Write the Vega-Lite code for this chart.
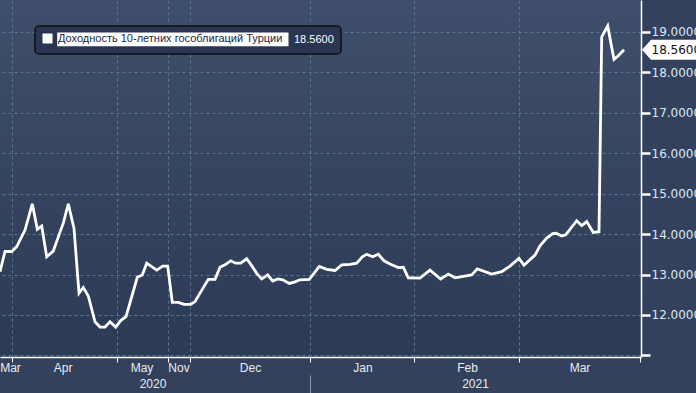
{
  "$schema": "https://vega.github.io/schema/vega-lite/v6.json",
  "width": 641,
  "height": 357,
  "autosize": "none",
  "padding": {"left": 0, "top": 0, "right": 55, "bottom": 36},
  "background": "#33415d",
  "config": {
    "view": {
      "stroke": null,
      "fill": {
        "gradient": "linear",
        "x1": 0, "y1": 0, "x2": 0, "y2": 1,
        "stops": [
          {"offset": 0, "color": "#3f4e6a"},
          {"offset": 1, "color": "#2c3a55"}
        ]
      }
    },
    "axis": {
      "labelFlush": false,
      "labelOverlap": false,
      "domainColor": "#ffffff",
      "domainWidth": 1.5,
      "tickColor": "#ffffff",
      "gridColor": "#56788e",
      "gridDash": [3, 3],
      "gridWidth": 1
    }
  },
  "datasets": {
    "yields": [
      {"t": 0, "v": 13.07}, {"t": 1, "v": 13.57}, {"t": 2.34, "v": 13.57}, {"t": 3.34, "v": 13.69},
      {"t": 5, "v": 14.10}, {"t": 6.46, "v": 14.75}, {"t": 7.46, "v": 14.12}, {"t": 8.34, "v": 14.20},
      {"t": 9.34, "v": 13.44}, {"t": 10.66, "v": 13.58}, {"t": 11.86, "v": 14.00}, {"t": 12.66, "v": 14.27},
      {"t": 13.66, "v": 14.75}, {"t": 14.8, "v": 14.14}, {"t": 15.8, "v": 12.54}, {"t": 16.66, "v": 12.68},
      {"t": 17.66, "v": 12.47}, {"t": 19, "v": 11.83}, {"t": 20, "v": 11.70}, {"t": 21, "v": 11.70},
      {"t": 22, "v": 11.83}, {"t": 23.14, "v": 11.70}, {"t": 24.14, "v": 11.86}, {"t": 25.2, "v": 11.96},
      {"t": 27.46, "v": 12.93}, {"t": 28.46, "v": 12.99}, {"t": 29.34, "v": 13.28}, {"t": 31.34, "v": 13.11},
      {"t": 32.54, "v": 13.21}, {"t": 33.54, "v": 13.21}, {"t": 34.46, "v": 12.31}, {"t": 35.66, "v": 12.31},
      {"t": 36.8, "v": 12.26}, {"t": 38.14, "v": 12.26}, {"t": 39, "v": 12.33}, {"t": 40, "v": 12.54},
      {"t": 41.66, "v": 12.88}, {"t": 43, "v": 12.88}, {"t": 44, "v": 13.18}, {"t": 45, "v": 13.24},
      {"t": 46.14, "v": 13.34}, {"t": 47.14, "v": 13.28}, {"t": 48.14, "v": 13.28}, {"t": 49.34, "v": 13.39},
      {"t": 50.34, "v": 13.22}, {"t": 51.34, "v": 13.03}, {"t": 52.34, "v": 12.89}, {"t": 53.54, "v": 12.99},
      {"t": 54.54, "v": 12.84}, {"t": 55.54, "v": 12.89}, {"t": 56.54, "v": 12.87}, {"t": 57.86, "v": 12.78},
      {"t": 59, "v": 12.82}, {"t": 60, "v": 12.87}, {"t": 61.86, "v": 12.88}, {"t": 63.86, "v": 13.20},
      {"t": 65.34, "v": 13.13}, {"t": 67, "v": 13.10}, {"t": 68.34, "v": 13.24}, {"t": 70, "v": 13.25},
      {"t": 71.34, "v": 13.28}, {"t": 72.46, "v": 13.44}, {"t": 73.34, "v": 13.50}, {"t": 74.54, "v": 13.44},
      {"t": 75.66, "v": 13.50}, {"t": 76.8, "v": 13.34}, {"t": 78, "v": 13.26}, {"t": 79.66, "v": 13.17},
      {"t": 80.66, "v": 13.18}, {"t": 81.66, "v": 12.92}, {"t": 84, "v": 12.91}, {"t": 86, "v": 13.11},
      {"t": 88.14, "v": 12.89}, {"t": 89.66, "v": 13.01}, {"t": 91, "v": 12.92}, {"t": 94.34, "v": 12.99},
      {"t": 95.46, "v": 13.14}, {"t": 98.34, "v": 13.01}, {"t": 100.34, "v": 13.07}, {"t": 102, "v": 13.21},
      {"t": 103.8, "v": 13.40}, {"t": 104.8, "v": 13.23}, {"t": 107, "v": 13.48}, {"t": 108, "v": 13.71},
      {"t": 109.34, "v": 13.90}, {"t": 110.54, "v": 14.01}, {"t": 111.2, "v": 14.02}, {"t": 112.34, "v": 13.95},
      {"t": 113.14, "v": 13.98}, {"t": 115.34, "v": 14.33}, {"t": 116.34, "v": 14.21}, {"t": 117.34, "v": 14.31},
      {"t": 118.66, "v": 14.04}, {"t": 119.8, "v": 14.06}, {"t": 120.34, "v": 18.88}, {"t": 121.54, "v": 19.15},
      {"t": 122.8, "v": 18.32}, {"t": 123.66, "v": 18.41}, {"t": 124.8, "v": 18.56}
    ]
  },
  "data": {"name": "yields"},
  "resolve": {"axis": {"x": "independent"}},
  "layer": [
    {
      "mark": {"type": "line", "strokeWidth": 2.8, "strokeJoin": "miter", "strokeMiterLimit": 4},
      "encoding": {
        "x": {
          "field": "t", "type": "quantitative",
          "scale": {"domain": [0, 128.2], "nice": false, "zero": false},
          "axis": {
            "orient": "bottom", "title": null,
            "values": [2, 2.34, 12.52, 23.34, 28.3, 33.6, 35.7, 38, 50, 62, 72.5, 82.86, 93.4, 103.86, 115.9, 128],
            "labelExpr": "datum.value == 2 ? 'Mar' : datum.value == 12.52 ? 'Apr' : datum.value == 28.3 ? 'May' : datum.value == 35.7 ? 'Nov' : datum.value == 50 ? 'Dec' : datum.value == 72.5 ? 'Jan' : datum.value == 93.4 ? 'Feb' : datum.value == 115.9 ? 'Mar' : ''",
            "tickSize": 5, "tickWidth": 1,
            "tickOpacity": {"condition": {"test": "indexof([2.34,23.34,33.6,38,62,82.86,103.86,128], datum.value) >= 0", "value": 1}, "value": 0},
            "grid": true,
            "gridOpacity": {"condition": {"test": "indexof([2.34,23.34,33.6,38,62,82.86,103.86], datum.value) >= 0", "value": 1}, "value": 0},
            "labelPadding": 5.5, "labelBaseline": "middle", "labelAngle": 0,
            "labelFont": "Liberation Sans", "labelFontSize": 12, "labelColor": "#e8ecf2"
          }
        },
        "y": {
          "field": "v", "type": "quantitative",
          "scale": {"domain": [10.96, 19.79], "nice": false, "zero": false},
          "axis": {
            "orient": "right", "title": null,
            "values": [11, 11.5, 12, 12.5, 13, 13.5, 14, 14.5, 15, 15.5, 16, 16.5, 17, 17.5, 18, 18.5, 19, 19.5],
            "labelExpr": "(datum.value % 1 === 0 && datum.value >= 12) ? format(datum.value, '.4f') : ''",
            "tickSize": {"condition": {"test": "datum.value % 1 === 0", "value": 9}, "value": 4},
            "tickWidth": {"condition": {"test": "datum.value % 1 === 0", "value": 2.5}, "value": 1},
            "grid": true,
            "gridOpacity": {"condition": {"test": "datum.value % 1 === 0", "value": 1}, "value": 0},
            "labelPadding": 1,
            "labelFont": "DejaVu Sans", "labelFontSize": 12, "labelColor": "#dbe7f6"
          }
        },
        "color": {
          "datum": "Доходность 10-летних гособлигаций Турции",
          "scale": {"range": ["#ffffff"]},
          "legend": {
            "orient": "none", "legendX": 35, "legendY": 26,
            "title": "18.5600", "titleOrient": "right",
            "fillColor": "#2a3651", "strokeColor": "#0e0e0e", "cornerRadius": 4, "padding": 7,
            "labelColor": "#1b2741", "labelFont": "Liberation Sans", "labelFontSize": 11, "labelOffset": 5, "labelLimit": 0,
            "titleColor": "#ffffff", "titleFont": "Liberation Sans", "titleFontSize": 11, "titleFontWeight": "normal", "titlePadding": 5,
            "symbolType": "M-1,-1H1V1H-1Z M1.94,-1.2H48.2V1.54H1.94Z",
            "symbolSize": 100, "symbolFillColor": "#ffffff", "symbolStrokeWidth": 0,
            "encode": {
              "legend": {"update": {"strokeWidth": {"value": 1.5}}},
              "symbols": {"update": {
                "fill": {"value": "#ffffff"},
                "stroke": {"value": "transparent"},
                "strokeWidth": {"value": 0},
                "shape": {"value": "M-1,-1H1V1H-1Z M1.94,-1.2H48.2V1.54H1.94Z"},
                "size": {"value": 100}
              }}
            }
          }
        }
      }
    },
    {
      "transform": [
        {"joinaggregate": [{"op": "max", "field": "t", "as": "tmax"}]},
        {"filter": "datum.t == datum.tmax"}
      ],
      "mark": {"type": "point", "shape": "M0.1,0L1,-1L6,-1L6,1L1,1Z", "size": 400, "filled": true, "fill": "#ffffff", "opacity": 1, "strokeWidth": 0},
      "encoding": {
        "x": {
          "datum": 128.2, "type": "quantitative",
          "axis": {
            "orient": "bottom", "offset": 18, "title": null, "domain": false, "grid": false,
            "values": [30.5, 62, 95],
            "labelExpr": "datum.value == 30.5 ? '2020' : datum.value == 95 ? '2021' : ''",
            "tickSize": 18, "tickColor": "#8e98a8", "tickWidth": 1,
            "tickOpacity": {"condition": {"test": "datum.value == 62", "value": 1}, "value": 0},
            "labelPadding": -10, "labelBaseline": "middle", "labelAngle": 0,
            "labelFont": "Liberation Sans", "labelFontSize": 12, "labelColor": "#e8ecf2"
          }
        },
        "y": {"field": "v", "type": "quantitative"}
      }
    },
    {
      "transform": [
        {"joinaggregate": [{"op": "max", "field": "t", "as": "tmax"}]},
        {"filter": "datum.t == datum.tmax"}
      ],
      "mark": {"type": "text", "align": "left", "baseline": "middle", "dx": 10.5, "font": "DejaVu Sans", "fontSize": 12, "color": "#111111"},
      "encoding": {
        "x": {"datum": 128.2, "type": "quantitative", "axis": null},
        "y": {"field": "v", "type": "quantitative"},
        "text": {"field": "v", "type": "quantitative", "format": ".4f"}
      }
    }
  ]
}
